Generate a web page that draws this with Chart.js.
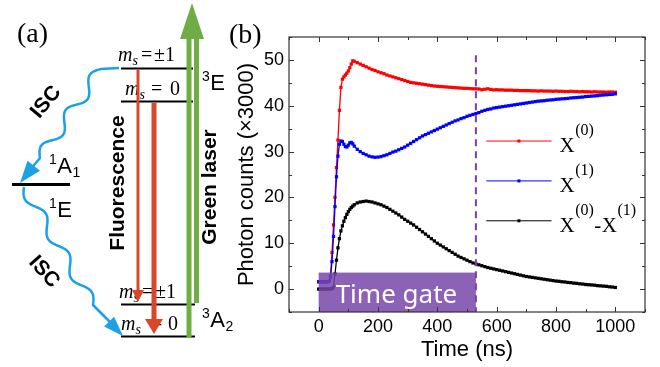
<!DOCTYPE html>
<html>
<head>
<meta charset="utf-8">
<script src="https://cdn.jsdelivr.net/npm/chart.js@4.4.1/dist/chart.umd.min.js"></script>
<style>
  html, body { margin: 0; padding: 0; background: #fff; }
  #wrap { width: 660px; height: 367px; }
</style>
</head>
<body>
<div id="wrap"><canvas id="graph-photon"></canvas></div>
<script>
// time axis (ns)
const timeNs = [0,5,10,15,20,25,30,35,40,45,50,55,60,65,70,75,80,85,90,95,100,105,110,115,120,
  130,140,150,160,170,180,190,200,
  210,220,230,240,250,260,270,280,290,300,
  310,320,330,340,350,360,370,380,390,400,
  410,420,430,440,450,460,470,480,490,500,
  510,520,530,540,550,560,570,580,590,600,
  610,620,630,640,650,660,670,680,690,700,
  710,720,730,740,750,760,770,780,790,800,
  810,820,830,840,850,860,870,880,890,900,
  910,920,930,940,950,960,970,980,990,1000];

// photon counts (x3000)
const countsX0 = [1.6,1.6,1.6,1.6,1.6,1.6,1.6,1.7,3.0,8.0,14.0,20.0,26.5,32.5,39.0,44.0,45.8,46.3,46.7,47.1,47.6,48.3,49.1,49.8,49.7,
  49.4,49.1,48.8,48.5,48.2,47.9,47.7,47.4,
  47.2,47.0,46.7,46.5,46.3,46.1,45.9,45.7,45.5,45.3,
  45.1,45.0,44.9,44.8,44.7,44.6,44.5,44.4,44.3,44.25,
  44.2,44.15,44.1,44.05,44.0,43.95,43.9,43.85,43.8,43.8,
  43.75,43.7,43.7,43.65,43.5,43.6,43.7,43.55,43.45,43.5,
  43.45,43.45,43.4,43.4,43.4,43.35,43.35,43.3,43.3,43.3,
  43.3,43.25,43.25,43.2,43.25,43.2,43.2,43.2,43.15,43.2,
  43.15,43.15,43.1,43.1,43.15,43.1,43.1,43.05,43.1,43.05,
  43.05,43.0,43.05,43.0,43.0,43.0,42.95,43.0,43.0,42.95];

const countsX1 = [1.6,1.6,1.6,1.6,1.6,1.6,1.6,1.7,2.5,6.0,11.5,18.0,24.5,29.0,31.6,32.3,32.2,31.6,31.1,31.0,31.4,31.9,32.0,31.7,31.2,
  30.5,30.0,29.6,29.3,29.0,28.85,28.75,28.8,
  28.9,29.1,29.3,29.6,29.9,30.1,30.4,30.7,31.0,31.4,
  31.8,32.2,32.6,33.0,33.4,33.7,34.0,34.3,34.6,34.9,
  35.2,35.5,35.8,36.1,36.4,36.7,36.9,37.2,37.4,37.7,
  37.9,38.1,38.3,38.5,38.8,39.0,39.2,39.3,39.5,39.6,
  39.7,39.8,39.9,40.0,40.1,40.2,40.3,40.4,40.5,40.6,
  40.7,40.8,40.9,41.0,41.05,41.1,41.2,41.25,41.3,41.4,
  41.45,41.5,41.55,41.6,41.7,41.75,41.8,41.85,41.9,42.0,
  42.05,42.1,42.15,42.2,42.3,42.35,42.4,42.45,42.5,42.6];

const countsDiff = [0,0,0,0,0,0,0,0,0,0.1,0.4,3.3,6.3,9.0,11.0,12.7,13.8,14.8,15.6,16.3,16.9,17.4,17.8,18.1,18.4,
  18.8,19.0,19.1,19.2,19.1,19.0,18.8,18.6,
  18.4,18.1,17.8,17.4,17.0,16.6,16.2,15.7,15.2,14.8,
  14.4,14.0,13.5,13.0,12.5,12.0,11.5,11.0,10.5,10.0,
  9.6,9.2,8.8,8.4,8.0,7.6,7.2,6.9,6.6,6.3,
  6.0,5.7,5.5,5.3,5.1,4.9,4.7,4.55,4.4,4.25,
  4.1,3.95,3.8,3.65,3.5,3.35,3.2,3.05,2.9,2.75,
  2.65,2.55,2.45,2.35,2.25,2.15,2.05,1.95,1.85,1.75,
  1.7,1.6,1.55,1.45,1.4,1.3,1.25,1.15,1.1,1.0,
  0.95,0.9,0.85,0.75,0.7,0.65,0.6,0.5,0.45,0.35];

const xTickLabels = [0, 200, 400, 600, 800, 1000];
const yTickLabels = [0, 10, 20, 30, 40, 50];
const seriesLabels = [
  [['X', '(0)']],
  [['X', '(1)']],
  [['X', '(0)'], ['-', ''], ['X', '(1)']]
];
const seriesColors = ['#ff0000', '#0000ff', '#000000'];

// time gate window (ns) and its height (counts)
const gateStart = 0, gateEnd = 530, gateTop = 3.6;
const dashTop = 51;

function pts(ys) {
  return ys.map((y, i) => ({ x: timeNs[i], y: y }));
}

function makeSet(data, i, order) {
  return {
    data: pts(data),
    borderColor: seriesColors[i],
    backgroundColor: seriesColors[i],
    borderWidth: 1.3,
    pointStyle: 'rect',
    pointRadius: 2.3,
    pointBorderWidth: 0,
    pointBackgroundColor: seriesColors[i],
    tension: 0,
    order: order
  };
}

function arrowHead(ctx, x1, y1, x2, y2, len, half, color) {
  const a = Math.atan2(y2 - y1, x2 - x1);
  const bx = x2 - len * Math.cos(a), by = y2 - len * Math.sin(a);
  ctx.beginPath();
  ctx.moveTo(x2, y2);
  ctx.lineTo(bx + half * Math.sin(a), by - half * Math.cos(a));
  ctx.lineTo(bx - half * Math.sin(a), by + half * Math.cos(a));
  ctx.closePath();
  ctx.fillStyle = color;
  ctx.fill();
}

// squiggly line along a segment
function wave(ctx, ax, ay, bx, by, waves, amp) {
  const dx = bx - ax, dy = by - ay, L = Math.hypot(dx, dy);
  const nx = -dy / L, ny = dx / L;
  for (let k = 0; k <= 60; k++) {
    const s = k / 60;
    const off = amp * Math.sin(s * waves * 2 * Math.PI);
    ctx.lineTo(ax + dx * s + nx * off, ay + dy * s + ny * off);
  }
}

function msLabel(ctx, x, y, eqX, val, valX) {
  ctx.fillStyle = '#000';
  ctx.textAlign = 'left';
  ctx.textBaseline = 'alphabetic';
  ctx.font = 'italic 20px "Liberation Serif"';
  ctx.fillText('m', x, y);
  ctx.font = 'italic 14px "Liberation Serif"';
  ctx.fillText('s', x + 14.5, y + 4);
  ctx.font = '20px "Liberation Serif"';
  ctx.fillText('=', eqX, y);
  ctx.fillText(val, valX, y);
}

function supText(ctx, x, y, sup, base, sub, size) {
  ctx.fillStyle = '#000';
  ctx.textAlign = 'left';
  ctx.textBaseline = 'alphabetic';
  ctx.font = Math.round(size * 0.62) + 'px "Liberation Sans"';
  ctx.fillText(sup, x, y - size * 0.42);
  let cx = x + ctx.measureText(sup).width + 0.5;
  ctx.font = size + 'px "Liberation Sans"';
  ctx.fillText(base, cx, y);
  cx += ctx.measureText(base).width + 0.5;
  if (sub) {
    ctx.font = Math.round(size * 0.62) + 'px "Liberation Sans"';
    ctx.fillText(sub, cx, y + 4);
  }
}

function drawPanelA(ctx) {
  ctx.save();
  ctx.font = '28px "Liberation Serif"';
  ctx.fillStyle = '#000';
  ctx.textBaseline = 'alphabetic';
  ctx.fillText('(a)', 17, 42);

  // labels for the sublevels (drawn under the arrows)
  msLabel(ctx, 118, 61, 141, '\u00b11', 154);
  msLabel(ctx, 125, 95, 151, '0', 170);
  msLabel(ctx, 119, 298, 142, '\u00b11', 155);
  msLabel(ctx, 121, 330, 151, '0', 168);

  // energy levels
  ctx.strokeStyle = '#000';
  ctx.lineWidth = 2;
  [[68.5, 193], [101.5, 193], [304.5, 195], [336.5, 195]].forEach(l => {
    ctx.beginPath(); ctx.moveTo(121, l[0]); ctx.lineTo(l[1], l[0]); ctx.stroke();
  });
  ctx.lineWidth = 3;
  ctx.beginPath(); ctx.moveTo(12, 184.5); ctx.lineTo(70, 184.5); ctx.stroke();

  // fluorescence arrows
  const red = '#d9472b';
  ctx.strokeStyle = red;
  ctx.lineWidth = 3;
  ctx.beginPath(); ctx.moveTo(138, 70); ctx.lineTo(138, 292); ctx.stroke();
  arrowHead(ctx, 138, 70, 138, 302, 12, 6, red);
  ctx.lineWidth = 5;
  ctx.beginPath(); ctx.moveTo(154, 103); ctx.lineTo(154, 320); ctx.stroke();
  arrowHead(ctx, 154, 103, 154, 334, 15, 9, red);

  // green laser arrow
  const green = '#70ad47';
  ctx.strokeStyle = green;
  ctx.lineWidth = 5;
  ctx.beginPath(); ctx.moveTo(189, 338); ctx.lineTo(189, 36); ctx.stroke();
  ctx.beginPath(); ctx.moveTo(196.5, 303); ctx.lineTo(196.5, 36); ctx.stroke();
  arrowHead(ctx, 192, 100, 192, 3, 36, 12, green);

  // intersystem crossing
  const blue = '#1ba1e6';
  ctx.strokeStyle = blue;
  ctx.lineWidth = 2.5;
  ctx.lineJoin = 'round';
  ctx.beginPath();
  ctx.moveTo(119, 68);
  ctx.lineTo(101, 69);
  wave(ctx, 101, 69, 40, 158, 2.5, 6);
  ctx.lineTo(30, 170);
  ctx.stroke();
  arrowHead(ctx, 40, 158, 20, 183, 22, 8, blue);
  ctx.beginPath();
  ctx.moveTo(24, 187);
  wave(ctx, 24, 187, 93, 305, 3, 5.5);
  ctx.lineTo(110, 322);
  ctx.stroke();
  arrowHead(ctx, 93, 305, 123, 336, 20, 7, blue);

  // rotated labels
  ctx.fillStyle = '#000';
  ctx.textAlign = 'center';
  ctx.textBaseline = 'middle';
  ctx.font = 'bold 21px "Liberation Sans"';
  [[118, 183, -Math.PI / 2, 'Fluorescence'],
   [210, 187, -Math.PI / 2, 'Green laser'],
   [46, 102, -50 * Math.PI / 180, 'ISC'],
   [44, 272, 48 * Math.PI / 180, 'ISC']].forEach(r => {
    ctx.save();
    ctx.translate(r[0], r[1]);
    ctx.rotate(r[2]);
    ctx.fillText(r[3], 0, 0);
    ctx.restore();
  });

  supText(ctx, 202, 90, '3', 'E', '', 22);
  supText(ctx, 202, 327, '3', 'A', '2', 22);
  supText(ctx, 49, 173, '1', 'A', '1', 22);
  supText(ctx, 49, 217, '1', 'E', '', 22);
  ctx.restore();
}

const overlay = {
  id: 'overlay',
  afterDatasetsDraw(chart) {
    const ctx = chart.ctx, xs = chart.scales.x, ys = chart.scales.y, area = chart.chartArea;
    ctx.save();
    // time gate box
    const gx0 = xs.getPixelForValue(gateStart), gx1 = xs.getPixelForValue(gateEnd);
    const gy = ys.getPixelForValue(gateTop);
    ctx.fillStyle = 'rgba(120, 70, 170, 0.85)';
    ctx.fillRect(gx0, gy, gx1 - gx0, area.bottom - gy);
    ctx.fillStyle = '#fff';
    ctx.font = '26px "Noto Sans"';
    ctx.textBaseline = 'alphabetic';
    ctx.fillText('Time gate', gx0 + 17, 303);

    // dashed marker
    ctx.strokeStyle = '#7a3fb0';
    ctx.lineWidth = 2;
    ctx.setLineDash([7, 5]);
    ctx.beginPath();
    ctx.moveTo(gx1, ys.getPixelForValue(dashTop));
    ctx.lineTo(gx1, area.bottom);
    ctx.stroke();
    ctx.setLineDash([]);

    // frame and inward ticks on all sides
    ctx.strokeStyle = '#333';
    ctx.lineWidth = 1.2;
    ctx.strokeRect(area.left, area.top, area.right - area.left, area.bottom - area.top);
    ctx.lineWidth = 1;
    xs.ticks.forEach(t => {
      const px = Math.round(xs.getPixelForValue(t.value)) + 0.5;
      const len = xTickLabels.includes(t.value) ? 5 : 3;
      ctx.beginPath();
      ctx.moveTo(px, area.bottom); ctx.lineTo(px, area.bottom - len);
      ctx.moveTo(px, area.top); ctx.lineTo(px, area.top + len);
      ctx.stroke();
    });
    ys.ticks.forEach(t => {
      const py = Math.round(ys.getPixelForValue(t.value)) + 0.5;
      const len = yTickLabels.includes(t.value) ? 5 : 3;
      ctx.beginPath();
      ctx.moveTo(area.left, py); ctx.lineTo(area.left + len, py);
      ctx.moveTo(area.right, py); ctx.lineTo(area.right - len, py);
      ctx.stroke();
    });

    // legend inside the plot
    const lx0 = xs.getPixelForValue(565), lx1 = xs.getPixelForValue(785);
    [32.3, 23.6, 14.9].forEach((v, i) => {
      const py = ys.getPixelForValue(v);
      ctx.strokeStyle = seriesColors[i];
      ctx.lineWidth = 1;
      ctx.beginPath(); ctx.moveTo(lx0, py); ctx.lineTo(lx1, py); ctx.stroke();
      ctx.fillStyle = seriesColors[i];
      ctx.fillRect((lx0 + lx1) / 2 - 1.5, py - 1.5, 3, 3);
      let cx = lx1 + 8;
      ctx.fillStyle = '#000';
      seriesLabels[i].forEach(part => {
        ctx.font = '21px "Liberation Serif"';
        ctx.fillText(part[0], cx, py + 11);
        cx += ctx.measureText(part[0]).width + 0.5;
        if (part[1]) {
          ctx.font = '16px "Liberation Serif"';
          ctx.fillText(part[1], cx, py - 6);
          cx += ctx.measureText(part[1]).width + 0.5;
        }
      });
    });
    ctx.restore();
  },
  afterDraw(chart) {
    const ctx = chart.ctx;
    ctx.save();
    ctx.font = '28px "Liberation Serif"';
    ctx.fillStyle = '#000';
    ctx.textBaseline = 'alphabetic';
    ctx.fillText('(b)', 229, 43);
    ctx.restore();
    drawPanelA(ctx);
  }
};

var graphPhoton = document.getElementById('graph-photon').getContext('2d');
var photon = new Chart(graphPhoton, {
  type: 'line',
  data: {
    datasets: [
      makeSet(countsX0, 0, 3),
      makeSet(countsX1, 1, 2),
      makeSet(countsDiff, 2, 1)
    ]
  },
  options: {
    responsive: true,
    maintainAspectRatio: false,
    animation: false,
    layout: { padding: { left: 230, right: 15, top: 37, bottom: 0 } },
    plugins: { legend: { display: false }, tooltip: { enabled: false } },
    scales: {
      x: {
        type: 'linear',
        min: -100,
        max: 1100,
        afterFit: s => { s.height = 55; },
        grid: { display: false, drawTicks: false },
        border: { display: false },
        ticks: {
          stepSize: 100,
          autoSkip: false,
          maxRotation: 0,
          padding: 4,
          color: '#000',
          font: { family: 'Liberation Sans', size: 18 },
          callback: v => xTickLabels.includes(v) ? String(v) : ''
        },
        title: {
          display: true,
          text: 'Time (ns)',
          color: '#000',
          font: { family: 'Liberation Sans', size: 22 }
        }
      },
      y: {
        min: -5,
        max: 55,
        afterFit: s => { s.width = 59; },
        grid: { display: false, drawTicks: false },
        border: { display: false },
        ticks: {
          stepSize: 5,
          autoSkip: false,
          padding: 5,
          color: '#000',
          font: { family: 'Liberation Sans', size: 18 },
          callback: v => yTickLabels.includes(v) ? String(v) : ''
        },
        title: {
          display: true,
          text: 'Photon counts (\u00d73000)',
          color: '#000',
          font: { family: 'Liberation Sans', size: 22 }
        }
      }
    }
  },
  plugins: [overlay]
});
</script>
</body>
</html>
